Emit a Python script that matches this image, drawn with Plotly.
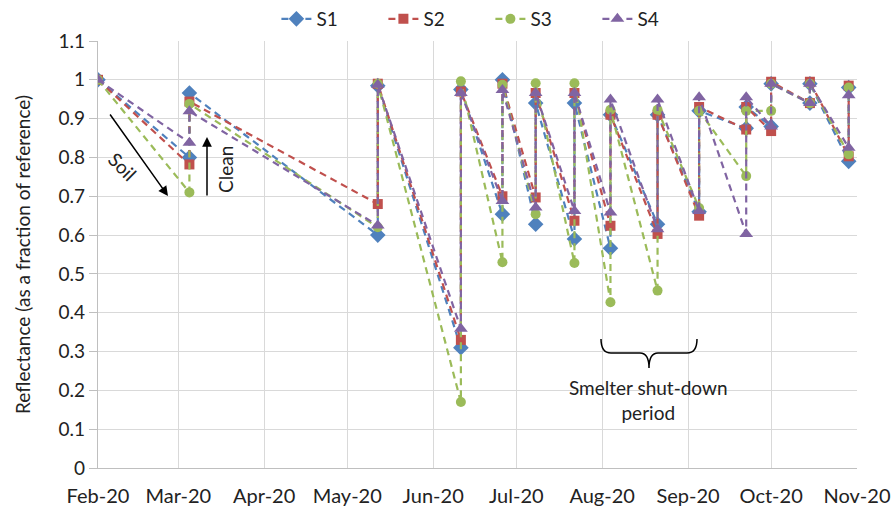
import plotly.graph_objects as go

# ---- data ----
dates = [
    "2020-02-01",
    "2020-03-05", "2020-03-05",
    "2020-05-12", "2020-05-12",
    "2020-06-11", "2020-06-11",
    "2020-06-26", "2020-06-26",
    "2020-07-08", "2020-07-08",
    "2020-07-22", "2020-07-22",
    "2020-08-04", "2020-08-04",
    "2020-08-21", "2020-08-21",
    "2020-09-05", "2020-09-05",
    "2020-09-22", "2020-09-22",
    "2020-10-01", "2020-10-01",
    "2020-10-15", "2020-10-15",
    "2020-10-29", "2020-10-29",
]
s1 = [1.0, 0.80, 0.966, 0.60, 0.985, 0.31, 0.975, 0.654, 1.0, 0.628, 0.94,
      0.59, 0.94, 0.566, 0.91, 0.628, 0.91, 0.66, 0.92, 0.875, 0.93,
      0.88, 0.99, 0.94, 0.99, 0.79, 0.98]
s2 = [1.0, 0.782, 0.944, 0.68, 0.99, 0.33, 0.97, 0.70, 0.99, 0.697, 0.966,
      0.637, 0.966, 0.624, 0.91, 0.603, 0.91, 0.65, 0.93, 0.872, 0.93,
      0.868, 0.995, 0.94, 0.995, 0.803, 0.985]
s3 = [1.0, 0.71, 0.938, 0.62, 0.99, 0.17, 0.996, 0.53, 0.987, 0.654, 0.991,
      0.528, 0.991, 0.427, 0.923, 0.457, 0.923, 0.67, 0.92, 0.752, 0.92,
      0.92, 0.99, 0.94, 0.99, 0.808, 0.98]
s4 = [1.0, 0.838, 0.919, 0.625, 0.987, 0.359, 0.966, 0.688, 0.974, 0.671, 0.966,
      0.662, 0.966, 0.658, 0.949, 0.615, 0.949, 0.662, 0.955, 0.603, 0.955,
      0.88, 0.99, 0.94, 0.99, 0.825, 0.96]
series_names = ["S1", "S2", "S3", "S4"]
tick_dates = ["2020-02-01", "2020-03-01", "2020-04-01", "2020-05-01", "2020-06-01",
              "2020-07-01", "2020-08-01", "2020-09-01", "2020-10-01", "2020-11-01"]
tick_labels = ["Feb-20", "Mar-20", "Apr-20", "May-20", "Jun-20",
               "Jul-20", "Aug-20", "Sep-20", "Oct-20", "Nov-20"]

colors = ["#4F81BD", "#C0504D", "#9BBB59", "#8064A2"]
symbols = ["diamond", "square", "circle", "triangle-up"]
sizes = [12, 10, 10, 12]
FONT = "Lato"
TXT = "#222222"

fig = go.Figure()
for name, vals, c, sym, sz in zip(series_names, [s1, s2, s3, s4], colors, symbols, sizes):
    fig.add_trace(go.Scatter(
        x=dates, y=vals, name=name, mode="lines+markers",
        line=dict(color=c, width=2.2, dash="7px,5px"),
        marker=dict(symbol=sym, size=sz, color=c),
    ))

# plot area in pixels
L, R, T, B = 98, 857, 41, 468
W, H = 891, 508


def px(x):
    return (x - L) / (R - L)


def py(y):
    return (B - y) / (B - T)


def label(x, y, text, angle=0):
    return dict(x=px(x), y=py(y), xref="paper", yref="paper", text=text,
                showarrow=False, textangle=angle, xanchor="center", yanchor="middle",
                align="center", font=dict(family=FONT, size=19, color=TXT))


annotations = [
    # Soil arrow
    dict(x=px(168), y=py(196), xref="paper", yref="paper", text="", showarrow=True,
         ax=109 - 168, ay=113 - 196, arrowhead=2, arrowsize=1.3, arrowwidth=1.5,
         arrowcolor="black"),
    label(123, 166, "Soil", 45),
    # Clean arrow
    dict(x=px(207), y=py(137), xref="paper", yref="paper", text="", showarrow=True,
         ax=0, ay=60, arrowhead=2, arrowsize=1.3, arrowwidth=1.5, arrowcolor="black"),
    label(225, 170, "Clean", -90),
    # Smelter text
    label(648, 400, "Smelter shut-down<br>period"),
]

path = (f"M {px(601)},{py(339)} Q {px(601)},{py(353)} {px(611)},{py(353)} "
        f"L {px(640)},{py(353)} Q {px(649)},{py(353)} {px(649)},{py(368)} "
        f"Q {px(649)},{py(353)} {px(658)},{py(353)} "
        f"L {px(687)},{py(353)} Q {px(697)},{py(353)} {px(697)},{py(339)}")
shapes = [dict(type="path", xref="paper", yref="paper", path=path,
               line=dict(color="black", width=1.5))]

fig.update_layout(
    template="none",
    width=W, height=H,
    margin=dict(l=L, r=W - R, t=T, b=H - B, autoexpand=False),
    paper_bgcolor="white", plot_bgcolor="white",
    font=dict(family=FONT, size=19, color=TXT),
    showlegend=True,
    legend=dict(orientation="h", x=0.517, xanchor="center", y=py(19), yanchor="middle",
                entrywidth=62, font=dict(family=FONT, size=19, color=TXT),
                bgcolor="rgba(0,0,0,0)"),
    annotations=annotations,
    shapes=shapes,
    xaxis=dict(
        type="date", range=["2020-02-01", "2020-11-01"],
        tickmode="array", tickvals=tick_dates, ticktext=tick_labels,
        showgrid=True, gridcolor="#D9D9D9", gridwidth=1.3,
        showline=True, linecolor="#BFBFBF", linewidth=1.3,
        ticks="", ticklabelstandoff=10, automargin=False,
        tickfont=dict(family=FONT, size=20, color=TXT), zeroline=False,
    ),
    yaxis=dict(
        range=[0, 1.1], tickmode="array",
        tickvals=[0, 0.1, 0.2, 0.3, 0.4, 0.5, 0.6, 0.7, 0.8, 0.9, 1.0, 1.1],
        ticktext=["0", "0.1", "0.2", "0.3", "0.4", "0.5", "0.6", "0.7", "0.8", "0.9", "1", "1.1"],
        showgrid=True, gridcolor="#D9D9D9", gridwidth=1.3,
        showline=True, linecolor="#BFBFBF", linewidth=1.3,
        ticks="outside", ticklen=8, tickcolor="#BFBFBF", automargin=False,
        tickfont=dict(family=FONT, size=19, color=TXT), zeroline=False,
        title=dict(text="Reflectance (as a fraction of reference)", standoff=22,
                   font=dict(family=FONT, size=19, color=TXT)),
    ),
)

fig.write_html("out.html")
